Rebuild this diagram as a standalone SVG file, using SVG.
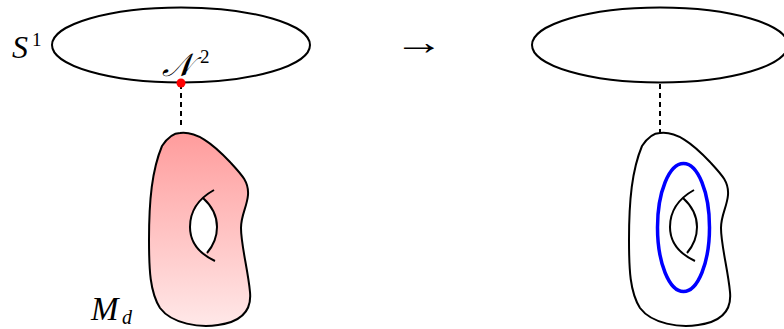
<svg xmlns="http://www.w3.org/2000/svg" width="784" height="329" viewBox="0 0 784 329">
<style>
.ln{fill:none;stroke:#000;stroke-width:2}
.dash{fill:none;stroke:#000;stroke-width:2;stroke-dasharray:5 4}
.math{font-family:"Liberation Serif","DejaVu Serif",serif;font-style:italic;fill:#000}
.up{font-family:"Liberation Serif","DejaVu Serif",serif;fill:#000}
</style>
<defs>
<linearGradient id="pink" x1="0" y1="0" x2="0" y2="1">
<stop offset="0" stop-color="#ff9c9c"/>
<stop offset="1" stop-color="#ffe8e8"/>
</linearGradient>
<path id="blob" d="M180,133 C196,131 212,143 230,162 C242,175 249,182 248,195 C247,207 241,215 241,228 C241,245 248,270 250,292 C252,312 240,322 218,325 C200,328 172,324 160,308 C150,292 149,270 149,240 C149,200 152,170 162,146 C168,137 174,133 180,133 Z"/>
<path id="lensL" d="M214,190 C196,200 190,214 190,227 C190,241 198,253 215,261"/>
<path id="lensS" d="M203,198 C213,207 217,217 217,227 C217,237 213,246 207,253"/>
</defs>
<g id="circle-left">
<ellipse class="ln" cx="181" cy="45" rx="129" ry="37.5"/>
</g>
<g id="circle-right">
<ellipse class="ln" cx="660" cy="45" rx="128" ry="37.5"/>
</g>
<g id="connectors">
<line class="dash" x1="181" y1="84" x2="181" y2="126"/>
<line class="dash" x1="660" y1="84" x2="660" y2="133"/>
</g>
<g id="surface-left">
<use href="#blob" fill="url(#pink)" stroke="#000" stroke-width="2"/>
<path d="M203,198 C196,206 190,216 190,227 C190,241 198,252 207,253 C213,246 217,237 217,227 C217,217 213,207 203,198 Z" fill="#fff"/>
<use href="#lensL" class="ln"/>
<use href="#lensS" class="ln"/>
</g>
<g id="surface-right">
<use href="#blob" x="480" fill="none" stroke="#000" stroke-width="2"/>
<use href="#lensL" x="480" class="ln"/>
<use href="#lensS" x="480" class="ln"/>
<ellipse cx="683.5" cy="227.5" rx="26" ry="64" fill="none" stroke="#0000ff" stroke-width="3.5"/>
</g>
<g id="point-N">
<circle cx="181" cy="83" r="4.5" fill="#ff0000"/>
</g>
<g id="labels">
<text class="math" x="12" y="58" font-size="32">S</text>
<text class="up" x="32" y="46" font-size="19">1</text>
<text class="math" x="162" y="76" font-size="32">𝒩</text>
<text class="up" x="200" y="63" font-size="19">2</text>
<text class="math" x="91" y="320" font-size="33">M</text>
<text class="math" x="122" y="324" font-size="20">d</text>
<text transform="translate(394,54) scale(1.4,1)" x="0" y="0" font-family="Liberation Sans,sans-serif" font-size="36" fill="#000">→</text>
</g>
</svg>
